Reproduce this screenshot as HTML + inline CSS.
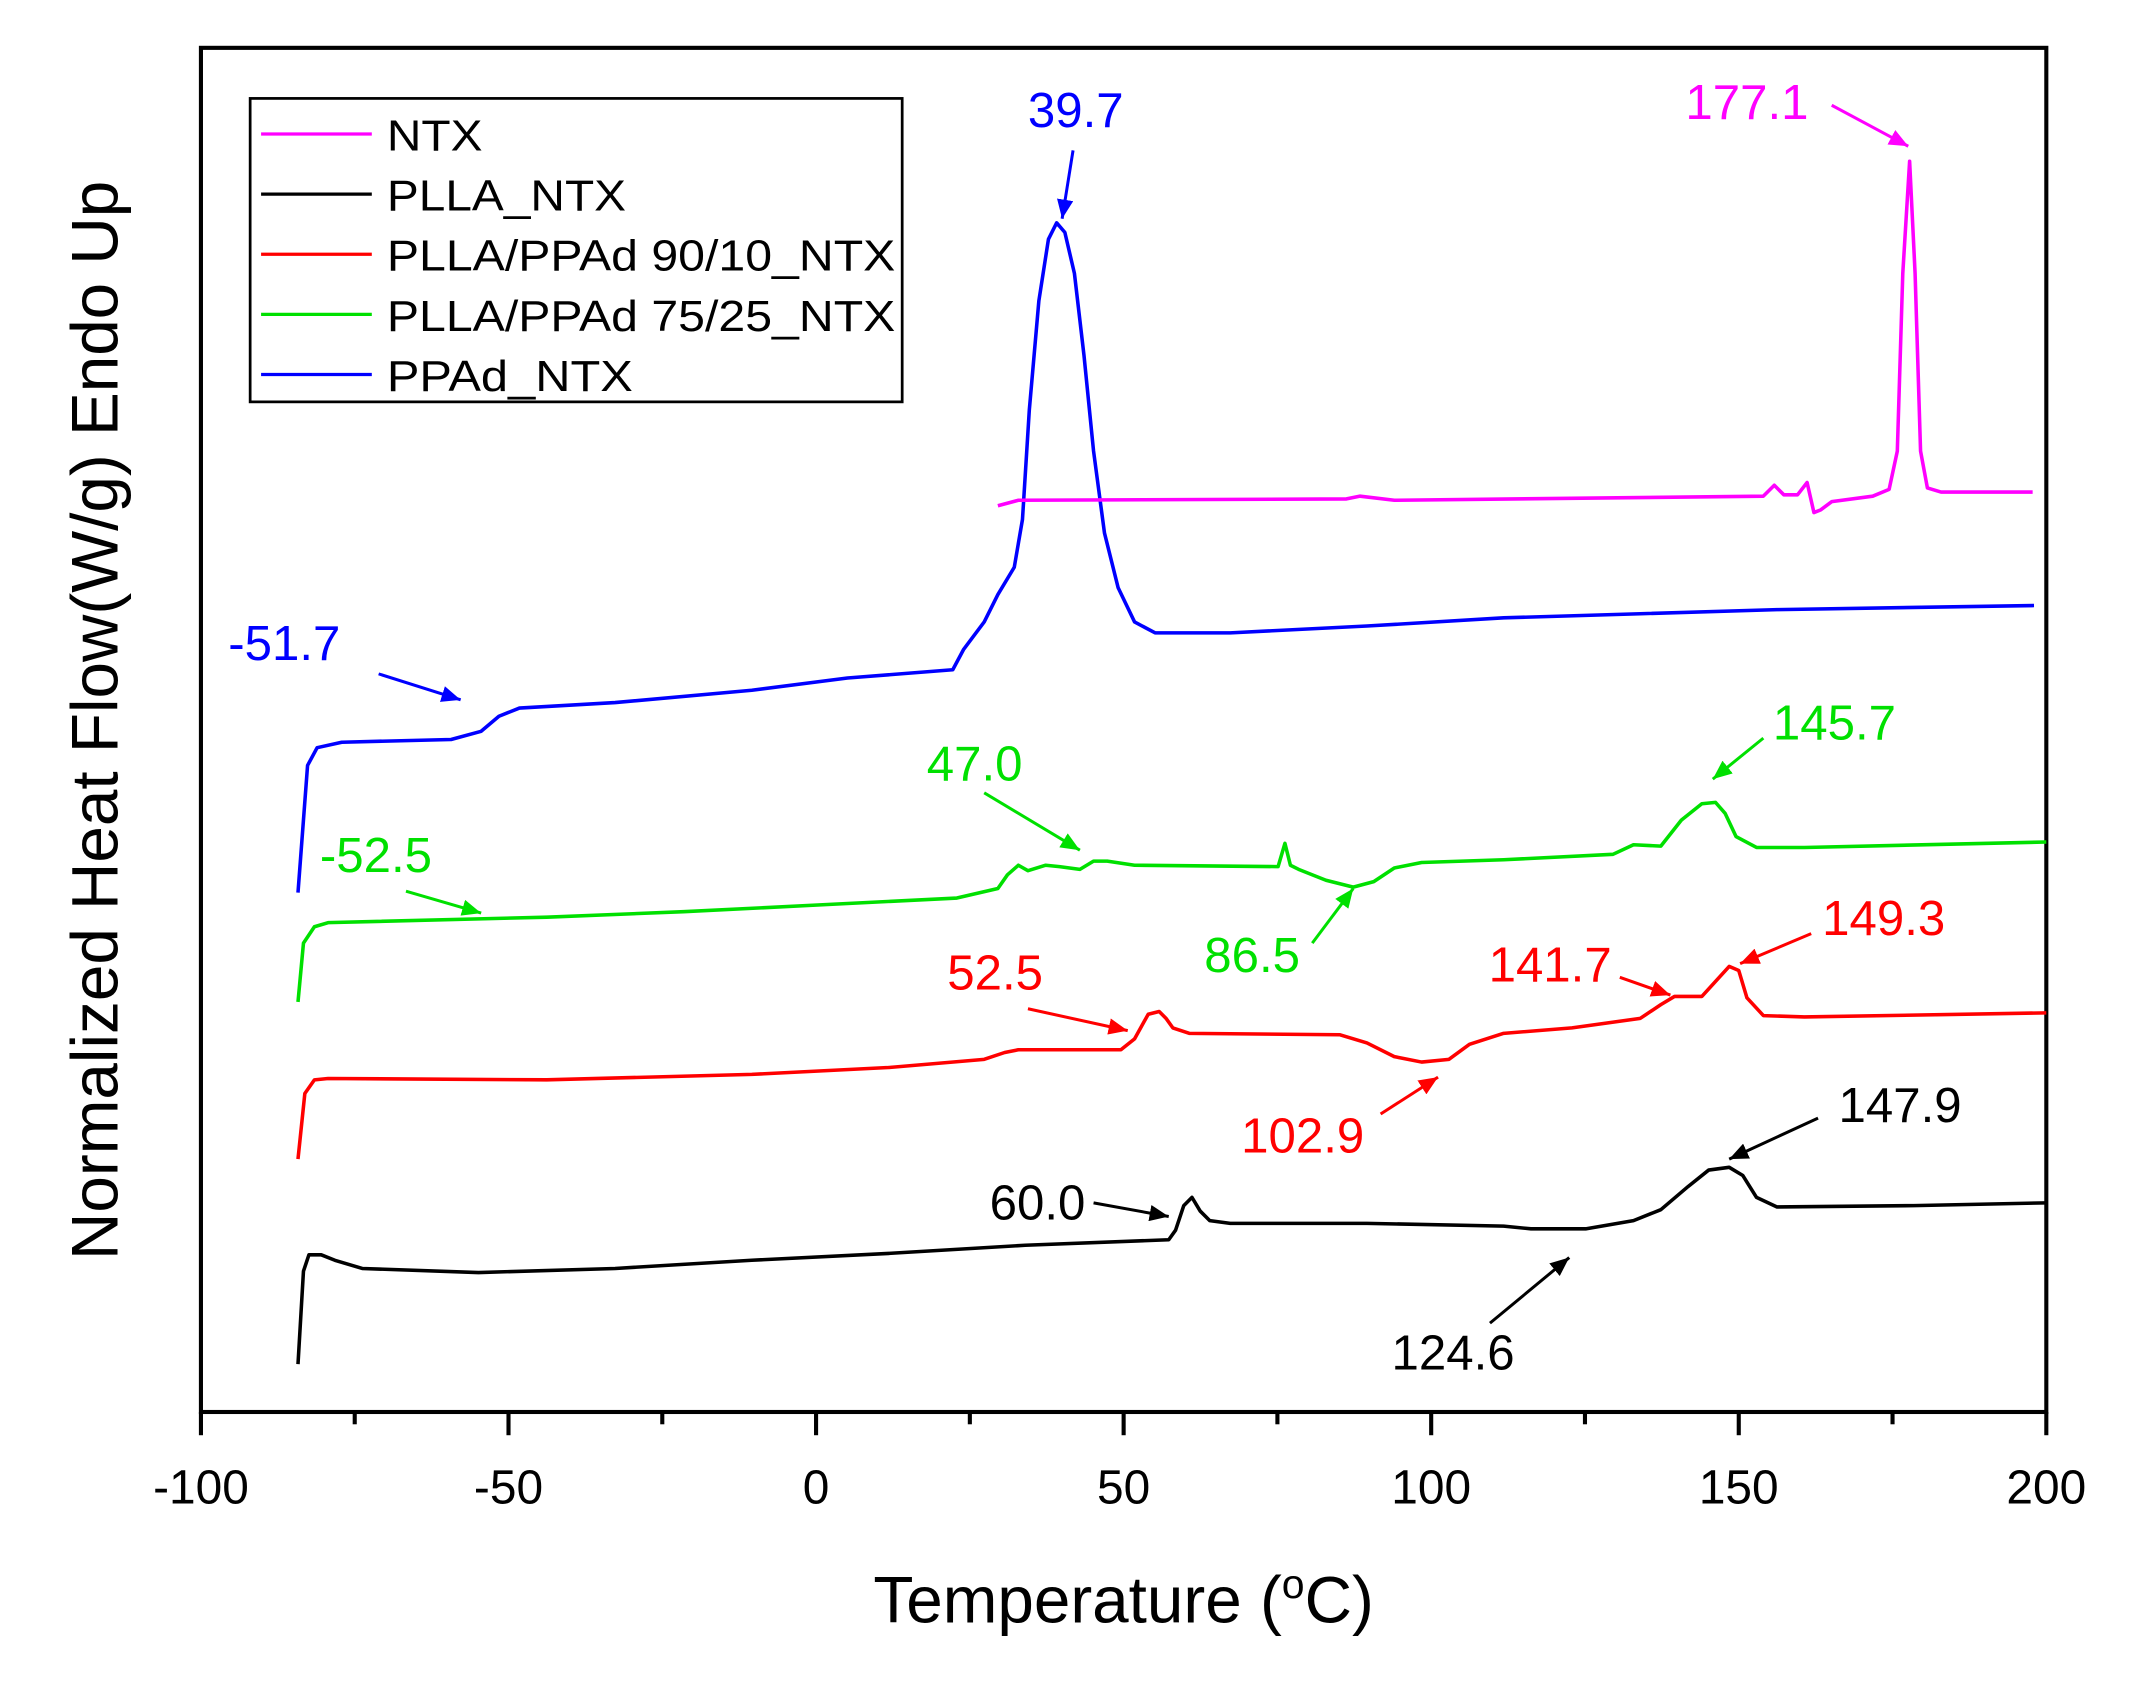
<!DOCTYPE html>
<html><head><meta charset="utf-8"><style>html,body{margin:0;padding:0;background:#fff}svg{display:block}</style></head>
<body>
<svg width="2142" height="1684" viewBox="0 0 1567 1232" preserveAspectRatio="none" xmlns="http://www.w3.org/2000/svg" font-family="Liberation Sans, Arial, sans-serif">
<defs>
<marker id="am" markerWidth="14" markerHeight="12" refX="14" refY="6" orient="auto" markerUnits="userSpaceOnUse"><path d="M0,0 L14,6 L0,12 z" fill="#ff00ff"/></marker>
<marker id="ag" markerWidth="14" markerHeight="12" refX="14" refY="6" orient="auto" markerUnits="userSpaceOnUse"><path d="M0,0 L14,6 L0,12 z" fill="#00e000"/></marker>
<marker id="ar" markerWidth="14" markerHeight="12" refX="14" refY="6" orient="auto" markerUnits="userSpaceOnUse"><path d="M0,0 L14,6 L0,12 z" fill="#ff0000"/></marker>
<marker id="ak" markerWidth="14" markerHeight="12" refX="14" refY="6" orient="auto" markerUnits="userSpaceOnUse"><path d="M0,0 L14,6 L0,12 z" fill="#000"/></marker>
<marker id="abl" markerWidth="14" markerHeight="12" refX="14" refY="6" orient="auto" markerUnits="userSpaceOnUse"><path d="M0,0 L14,6 L0,12 z" fill="#0000ff"/></marker>
</defs>
<rect x="147" y="35" width="1350" height="998" fill="none" stroke="#000" stroke-width="3"/>
<g stroke="#000" stroke-width="3">
<line x1="147" y1="1033" x2="147" y2="1050"/><line x1="372" y1="1033" x2="372" y2="1050"/><line x1="597" y1="1033" x2="597" y2="1050"/><line x1="822" y1="1033" x2="822" y2="1050"/><line x1="1047" y1="1033" x2="1047" y2="1050"/><line x1="1272" y1="1033" x2="1272" y2="1050"/><line x1="1497" y1="1033" x2="1497" y2="1050"/>
<line x1="259.5" y1="1033" x2="259.5" y2="1042"/><line x1="484.5" y1="1033" x2="484.5" y2="1042"/><line x1="709.5" y1="1033" x2="709.5" y2="1042"/><line x1="934.5" y1="1033" x2="934.5" y2="1042"/><line x1="1159.5" y1="1033" x2="1159.5" y2="1042"/><line x1="1384.5" y1="1033" x2="1384.5" y2="1042"/>
</g>
<g font-size="35" text-anchor="middle" fill="#000">
<text x="147" y="1100">-100</text><text x="372" y="1100">-50</text><text x="597" y="1100">0</text><text x="822" y="1100">50</text><text x="1047" y="1100">100</text><text x="1272" y="1100">150</text><text x="1497" y="1100">200</text>
</g>
<text x="822" y="1187" font-size="48" text-anchor="middle">Temperature (<tspan font-size="30" dy="-18">o</tspan><tspan dy="18">C)</tspan></text>
<text transform="translate(86,527) rotate(-90)" font-size="48" text-anchor="middle">Normalized Heat Flow(W/g) Endo Up</text>
<g fill="none" stroke-width="2.6" stroke-linejoin="round">
<polyline stroke="#0000ff" points="218,653 225,560 232,547 250,543 330,541 352,535 365,524 380,518 450,514 550,505 620,496 697,490 705,475 720,455 730,435 742,415 748,380 753,300 760,220 767,175 773,163 779,170 786,200 793,260 800,330 808,390 818,430 830,455 845,463 900,463 1000,458 1100,452 1200,449 1300,446 1488,443"/>
<polyline stroke="#ff00ff" points="730,370 745,366 985,365 995,363 1020,366 1290,363 1298,355 1305,362 1315,362 1322,353 1327,375 1332,373 1340,367 1370,363 1382,358 1388,330 1392,200 1397,118 1401,200 1405,330 1410,357 1420,360 1487,360"/>
<polyline stroke="#00e000" points="218,733 222,690 230,678 240,675 400,671 500,667 600,662 700,657 730,650 737,640 745,633 752,637 765,633 775,634 790,636 800,630 810,630 830,633 935,634 940,617 944,633 950,636 970,644 990,649 1005,645 1020,635 1040,631 1100,629 1180,625 1195,618 1215,619 1230,600 1245,588 1255,587 1262,595 1270,612 1285,620 1320,620 1497,616"/>
<polyline stroke="#ff0000" points="218,848 223,800 230,790 240,789 400,790 550,786 650,781 720,775 735,770 745,768 800,768 820,768 830,760 840,742 848,740 853,745 858,752 870,756 980,757 1000,763 1020,773 1040,777 1060,775 1075,764 1100,756 1150,752 1200,745 1215,735 1225,729 1245,729 1255,718 1265,707 1272,710 1278,730 1290,743 1320,744 1497,741"/>
<polyline stroke="#000" points="218,998 222,930 226,918 235,918 245,922 265,928 350,931 450,928 550,922 650,917 750,911 855,907 860,900 866,882 872,876 878,886 885,893 900,895 1000,895 1100,897 1120,899 1160,899 1195,893 1215,885 1235,868 1250,856 1265,854 1275,860 1285,876 1300,883 1400,882 1497,880"/>
</g>
<g stroke-width="2.2">
<line x1="277" y1="493" x2="337" y2="512" stroke="#0000ff" marker-end="url(#abl)"/>
<line x1="785" y1="110" x2="777" y2="160" stroke="#0000ff" marker-end="url(#abl)"/>
<line x1="1340" y1="77" x2="1396" y2="107" stroke="#ff00ff" marker-end="url(#am)"/>
<line x1="297" y1="652" x2="352" y2="668" stroke="#00e000" marker-end="url(#ag)"/>
<line x1="720" y1="580" x2="790" y2="622" stroke="#00e000" marker-end="url(#ag)"/>
<line x1="960" y1="690" x2="990" y2="650" stroke="#00e000" marker-end="url(#ag)"/>
<line x1="1290" y1="540" x2="1253" y2="570" stroke="#00e000" marker-end="url(#ag)"/>
<line x1="752" y1="738" x2="825" y2="754" stroke="#ff0000" marker-end="url(#ar)"/>
<line x1="1185" y1="715" x2="1222" y2="728" stroke="#ff0000" marker-end="url(#ar)"/>
<line x1="1325" y1="683" x2="1273" y2="705" stroke="#ff0000" marker-end="url(#ar)"/>
<line x1="1010" y1="815" x2="1052" y2="788" stroke="#ff0000" marker-end="url(#ar)"/>
<line x1="800" y1="880" x2="855" y2="890" stroke="#000" marker-end="url(#ak)"/>
<line x1="1330" y1="818" x2="1265" y2="848" stroke="#000" marker-end="url(#ak)"/>
<line x1="1090" y1="968" x2="1148" y2="920" stroke="#000" marker-end="url(#ak)"/>
</g>
<g font-size="36">
<text x="167" y="483" fill="#0000ff">-51.7</text>
<text x="787" y="93" fill="#0000ff" text-anchor="middle">39.7</text>
<text x="1233" y="87" fill="#ff00ff">177.1</text>
<text x="234" y="638" fill="#00e000">-52.5</text>
<text x="678" y="571" fill="#00e000">47.0</text>
<text x="881" y="711" fill="#00e000">86.5</text>
<text x="1297" y="541" fill="#00e000">145.7</text>
<text x="693" y="724" fill="#ff0000">52.5</text>
<text x="1089" y="718" fill="#ff0000">141.7</text>
<text x="1333" y="684" fill="#ff0000">149.3</text>
<text x="908" y="843" fill="#ff0000">102.9</text>
<text x="724" y="892" fill="#000">60.0</text>
<text x="1345" y="821" fill="#000">147.9</text>
<text x="1018" y="1002" fill="#000">124.6</text>
</g>
<rect x="183" y="72" width="477" height="222" fill="#fff" stroke="#000" stroke-width="2"/>
<g stroke-width="2.4">
<line x1="191" y1="98" x2="272" y2="98" stroke="#ff00ff"/>
<line x1="191" y1="142" x2="272" y2="142" stroke="#000"/>
<line x1="191" y1="186" x2="272" y2="186" stroke="#ff0000"/>
<line x1="191" y1="230" x2="272" y2="230" stroke="#00e000"/>
<line x1="191" y1="274" x2="272" y2="274" stroke="#0000ff"/>
</g>
<g font-size="32" fill="#000">
<text x="283" y="110" textLength="70" lengthAdjust="spacingAndGlyphs">NTX</text>
<text x="283" y="154" textLength="175" lengthAdjust="spacingAndGlyphs">PLLA_NTX</text>
<text x="283" y="198" textLength="372" lengthAdjust="spacingAndGlyphs">PLLA/PPAd 90/10_NTX</text>
<text x="283" y="242" textLength="372" lengthAdjust="spacingAndGlyphs">PLLA/PPAd 75/25_NTX</text>
<text x="283" y="286" textLength="180" lengthAdjust="spacingAndGlyphs">PPAd_NTX</text>
</g>
</svg>
</body></html>
